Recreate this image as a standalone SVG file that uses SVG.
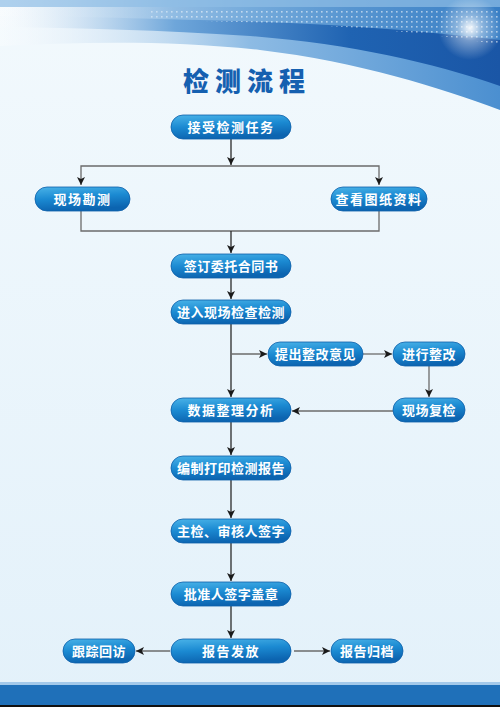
<svg xmlns="http://www.w3.org/2000/svg" width="500" height="707" viewBox="0 0 500 707">
<defs>
<linearGradient id="bg" x1="0" y1="0" x2="0" y2="1"><stop offset="0" stop-color="#f2f9fd"/><stop offset="1" stop-color="#e3f1fa"/></linearGradient>
<linearGradient id="w1" x1="0" y1="0" x2="1" y2="0"><stop offset="0" stop-color="#ffffff" stop-opacity="0.2"/><stop offset="0.5" stop-color="#7fb3e0"/><stop offset="1" stop-color="#3f88cc"/></linearGradient>
<linearGradient id="w2" x1="0" y1="0" x2="1" y2="0"><stop offset="0" stop-color="#ffffff" stop-opacity="0.1"/><stop offset="0.35" stop-color="#6ea6da"/><stop offset="0.7" stop-color="#1f63b2"/><stop offset="1" stop-color="#1a56a6"/></linearGradient>
<linearGradient id="w3" x1="0" y1="0" x2="1" y2="0"><stop offset="0" stop-color="#ffffff" stop-opacity="0.3"/><stop offset="0.5" stop-color="#8dbbe4"/><stop offset="1" stop-color="#4b8fd0"/></linearGradient>
<radialGradient id="glow" cx="0.5" cy="0.5" r="0.5"><stop offset="0" stop-color="#ffffff" stop-opacity="0.95"/><stop offset="0.4" stop-color="#ffffff" stop-opacity="0.4"/><stop offset="1" stop-color="#ffffff" stop-opacity="0"/></radialGradient>
<pattern id="dots" width="5" height="5" patternUnits="userSpaceOnUse"><rect x="1" y="1" width="1.6" height="1.6" fill="#ffffff" fill-opacity="0.55"/></pattern>
<linearGradient id="dotfade" x1="0" y1="0" x2="1" y2="0"><stop offset="0" stop-color="#fff" stop-opacity="0"/><stop offset="0.4" stop-color="#fff" stop-opacity="1"/><stop offset="1" stop-color="#fff" stop-opacity="1"/></linearGradient>
<mask id="dm"><rect x="0" y="0" width="500" height="60" fill="url(#dotfade)"/></mask>
<linearGradient id="pill" x1="0" y1="0" x2="0.25" y2="1"><stop offset="0" stop-color="#4ab3e8"/><stop offset="0.5" stop-color="#1b8ad2"/><stop offset="1" stop-color="#0c64b0"/></linearGradient>
<marker id="ah" markerWidth="8" markerHeight="8" refX="8" refY="4" orient="auto" markerUnits="userSpaceOnUse"><path d="M0,0 L8,4 L0,8 L2,4 Z" fill="#1a1a1a"/></marker>
</defs>
<style>
.node rect{fill:url(#pill);stroke:#0e5fa9;stroke-width:0.8}
.node text{font-family:"Noto Sans CJK SC","Noto Sans CJK JP",sans-serif;font-size:13px;font-weight:bold;fill:#ffffff;text-anchor:middle;letter-spacing:1.5px}
.node text.l{letter-spacing:0.5px}
#connectors path{fill:none;stroke:#2a2a2a;stroke-width:1.3}
#connectors .a{marker-end:url(#ah)}
#connectors .g{stroke:#6b6b6b}
.title{font-family:"Noto Sans CJK SC","Noto Sans CJK JP",serif;font-size:26px;font-weight:900;fill:#1560b0;text-anchor:middle;letter-spacing:6px}
</style>
<rect x="0" y="0" width="500" height="707" fill="url(#bg)"/>
<g id="header">
<path d="M0,0 H500 V110 C440,88 360,62 260,50 C170,40 80,42 0,46 Z" fill="url(#w3)"/>
<path d="M0,0 H500 V86 C430,62 350,44 250,36 C160,30 80,28 0,27 Z" fill="url(#w2)"/>
<path d="M0,0 H500 V40 C400,28 300,22 200,20 C120,18 60,16 0,16 Z" fill="url(#w1)" opacity="0.8"/>
<rect x="0" y="0" width="500" height="7" fill="#8ebde6" opacity="0.7"/>
<path d="M150,8 H500 V45 C420,30 300,22 150,20 Z" fill="url(#dots)" mask="url(#dm)"/>
<circle cx="470" cy="28" r="32" fill="url(#glow)"/>
</g>
<text class="title" x="247" y="91">检测流程</text>
<g id="connectors">
<path class="a" d="M231,139 V165"/>
<path class="a g" d="M231,166 H81 V185"/>
<path class="a g" d="M231,166 H379 V185"/>
<path class="g" d="M81,211 V231 H379 V211"/>
<path class="a" d="M231,231 V253"/>
<path class="a" d="M231,277 V299"/>
<path class="a" d="M231,324 V397"/>
<path class="a g" d="M231,354 H267"/>
<path class="a g" d="M363,354 H392"/>
<path class="a g" d="M429,366 V397"/>
<path class="a g" d="M393,411 H292"/>
<path class="a" d="M231,422 V455"/>
<path class="a" d="M231,480 V518"/>
<path class="a" d="M231,543 V581"/>
<path class="a" d="M231,606 V638"/>
<path class="a g" d="M170,651 H136"/>
<path class="a g" d="M294,651 H330"/>
</g>
<g id="n1" class="node"><rect x="171" y="115" width="120" height="24" rx="12"/><text x="231" y="131.5">接受检测任务</text></g>
<g id="n2" class="node"><rect x="35" y="187" width="95" height="24" rx="12"/><text x="82.5" y="203.5">现场勘测</text></g>
<g id="n3" class="node"><rect x="331" y="187" width="96" height="24" rx="12"/><text x="379" y="203.5">查看图纸资料</text></g>
<g id="n4" class="node"><rect x="171" y="254" width="120" height="24" rx="12"/><text class="l" x="231" y="270.5">签订委托合同书</text></g>
<g id="n5" class="node"><rect x="171" y="300" width="120" height="24" rx="12"/><text class="l" x="231" y="316.5">进入现场检查检测</text></g>
<g id="n6" class="node"><rect x="268" y="342" width="95" height="24" rx="12"/><text class="l" x="315.5" y="358.5">提出整改意见</text></g>
<g id="n7" class="node"><rect x="393" y="342" width="72" height="24" rx="12"/><text class="l" x="429" y="358.5">进行整改</text></g>
<g id="n8" class="node"><rect x="393" y="398" width="72" height="24" rx="12"/><text class="l" x="429" y="414.5">现场复检</text></g>
<g id="n9" class="node"><rect x="171" y="398" width="120" height="24" rx="12"/><text x="231" y="414.5">数据整理分析</text></g>
<g id="n10" class="node"><rect x="171" y="456" width="120" height="24" rx="12"/><text class="l" x="231" y="472.5">编制打印检测报告</text></g>
<g id="n11" class="node"><rect x="171" y="519" width="120" height="24" rx="12"/><text class="l" x="231" y="535.5">主检、审核人签字</text></g>
<g id="n12" class="node"><rect x="171" y="582" width="120" height="24" rx="12"/><text class="l" x="231" y="598.5">批准人签字盖章</text></g>
<g id="n13" class="node"><rect x="171" y="639" width="120" height="24" rx="12"/><text x="231" y="655.5">报告发放</text></g>
<g id="n14" class="node"><rect x="63" y="639" width="72" height="24" rx="12"/><text class="l" x="99" y="655.5">跟踪回访</text></g>
<g id="n15" class="node"><rect x="331" y="639" width="72" height="24" rx="12"/><text class="l" x="367" y="655.5">报告归档</text></g>
<g id="footer">
<rect x="0" y="682" width="500" height="3" fill="#a3c9ea"/>
<rect x="0" y="685" width="500" height="22" fill="#1f70b9"/>
<rect x="0" y="705" width="500" height="2" fill="#111111"/>
</g>
</svg>
